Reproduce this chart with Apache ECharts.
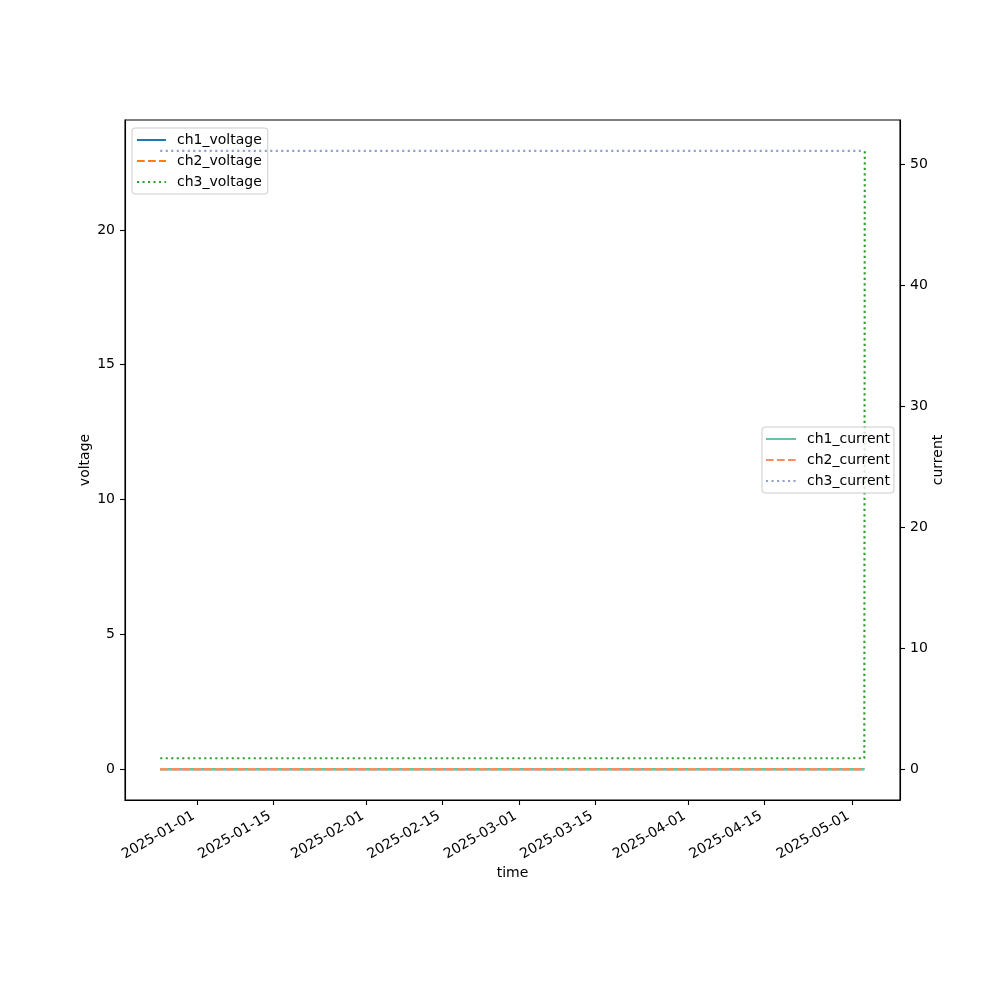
<!DOCTYPE html>
<html>
<head>
<meta charset="utf-8">
<script src="https://cdn.jsdelivr.net/npm/echarts@6/dist/echarts.min.js"></script>
<style>html,body{margin:0;padding:0;background:#fff}#c{width:1000px;height:1000px}</style>
</head>
<body>
<div id="c"></div>
<script>
// ---- data ----
var times = ['2024-12-25T06:00:00Z', '2025-05-03T06:30:00Z', '2025-05-03T08:30:00Z'];
var ch1_voltage = [0, 0, 0];
var ch2_voltage = [0, 0, 0];
var ch3_voltage = [0.40, 0.40, 22.93];
var ch1_current = [0, 0, 0];
var ch2_current = [0, 0, 0];
var ch3_current = [51.1, 51.1, 51.1];
var xTickLabels = ['2025-01-01','2025-01-15','2025-02-01','2025-02-15','2025-03-01','2025-03-15','2025-04-01','2025-04-15','2025-05-01'];
var voltageTicks = [0, 5, 10, 15, 20];
var currentTicks = [0, 10, 20, 30, 40, 50];

function ts(s){ return new Date(s).getTime(); }
function pairs(vals){ return times.map(function(t,i){ return [ts(t), vals[i]]; }); }
function pad(min, max){ var s = max - min; return [min - 0.05*s, max + 0.05*s]; }
function fmtDate(v){
  var d = new Date(v);
  var m = d.getUTCMonth()+1, dd = d.getUTCDate();
  return d.getUTCFullYear() + '-' + (m<10?'0':'') + m + '-' + (dd<10?'0':'') + dd;
}

var tmin = ts(times[0]), tmax = ts(times[times.length-1]);
var xr = pad(tmin, tmax);
var vAll = [].concat(ch1_voltage, ch2_voltage, ch3_voltage);
var cAll = [].concat(ch1_current, ch2_current, ch3_current);
var vr = pad(Math.min.apply(null, vAll), Math.max.apply(null, vAll));
var cr = pad(Math.min.apply(null, cAll), Math.max.apply(null, cAll));
var xTickVals = xTickLabels.map(function(d){ return ts(d + 'T00:00:00Z'); });

var FONT = 'DejaVu Sans';
var dashed = [7.7, 3.3];
var dotted = [2.1, 3.4];

function line(name, vals, color, type, yi){
  return {
    name: name, type: 'line', yAxisIndex: yi, data: pairs(vals),
    showSymbol: false, symbol: 'none', animation: false,
    lineStyle: { color: color, width: 2.1, type: type },
    itemStyle: { color: color }
  };
}

var legendCommon = {
  orient: 'vertical', itemHeight: 14, itemGap: 7,
  backgroundColor: 'rgba(255,255,255,0.8)', borderColor: '#cccccc', borderWidth: 1, borderRadius: 3,
  textStyle: { fontSize: 14, color: '#000', fontFamily: FONT, padding: [0,0,0,6] },
  itemStyle: { color: 'rgba(0,0,0,0)', borderColor: 'rgba(0,0,0,0)', borderWidth: 0, opacity: 0 },
  selectedMode: false
};

var chart = echarts.init(document.getElementById('c'), null, { renderer: 'canvas' });
chart.setOption({
  backgroundColor: '#fff',
  animation: false,
  textStyle: { fontFamily: FONT },
  grid: { left: 125, right: 100, top: 120, bottom: 200, show: true, borderColor: '#000', borderWidth: 1.1, containLabel: false },
  legend: [
    Object.assign({}, legendCommon, {
      data: ['ch1_voltage','ch2_voltage','ch3_voltage'],
      left: 132, top: 128, z: 1, itemWidth: 29, padding: [5, 6, 5, 4]
    }),
    Object.assign({}, legendCommon, {
      data: ['ch1_current','ch2_current','ch3_current'],
      left: 762, top: 427, itemWidth: 30, padding: [5, 4, 5, 3]
    })
  ],
  xAxis: {
    type: 'value', min: xr[0], max: xr[1],
    name: 'time', nameLocation: 'middle', nameGap: 66, nameMoveOverlap: false,
    nameTextStyle: { fontSize: 14, color: '#000', fontFamily: FONT },
    axisLine: { show: true, onZero: false, lineStyle: { color: '#000', width: 1.1 } },
    axisTick: { show: true, length: 5, lineStyle: { color: '#000', width: 1.1 }, customValues: xTickVals },
    axisLabel: {
      customValues: xTickVals, rotate: 30, fontSize: 14, color: '#000', margin: 13, padding: [0, 4, 0, 0], fontFamily: FONT,
      formatter: function(v){ return fmtDate(v); }
    },
    splitLine: { show: false }
  },
  yAxis: [
    {
      type: 'value', position: 'left', min: vr[0], max: vr[1],
      name: 'voltage', nameLocation: 'middle', nameGap: 33, nameRotate: 90, nameMoveOverlap: false,
      nameTextStyle: { fontSize: 14, color: '#000', fontFamily: FONT },
      axisLine: { show: true, onZero: false, lineStyle: { color: '#000', width: 1.1 } },
      axisTick: { show: true, length: 5, lineStyle: { color: '#000', width: 1.1 }, customValues: voltageTicks },
      axisLabel: { customValues: voltageTicks, fontSize: 14, color: '#000', margin: 10, fontFamily: FONT },
      splitLine: { show: false }
    },
    {
      type: 'value', position: 'right', min: cr[0], max: cr[1],
      name: 'current', nameLocation: 'middle', nameGap: 31, nameRotate: 90, nameMoveOverlap: false,
      nameTextStyle: { fontSize: 14, color: '#000', fontFamily: FONT },
      axisLine: { show: true, onZero: false, lineStyle: { color: '#000', width: 1.1 } },
      axisTick: { show: true, length: 5, lineStyle: { color: '#000', width: 1.1 }, customValues: currentTicks },
      axisLabel: { customValues: currentTicks, fontSize: 14, color: '#000', margin: 10, fontFamily: FONT },
      splitLine: { show: false }
    }
  ],
  series: [
    line('ch1_voltage', ch1_voltage, '#1f77b4', 'solid', 0),
    line('ch2_voltage', ch2_voltage, '#ff7f0e', dashed, 0),
    line('ch3_voltage', ch3_voltage, '#2ca02c', dotted, 0),
    line('ch1_current', ch1_current, '#66c2a5', 'solid', 1),
    line('ch2_current', ch2_current, '#fc8d62', dashed, 1),
    line('ch3_current', ch3_current, '#8da0cb', dotted, 1)
  ]
});
</script>
</body>
</html>
